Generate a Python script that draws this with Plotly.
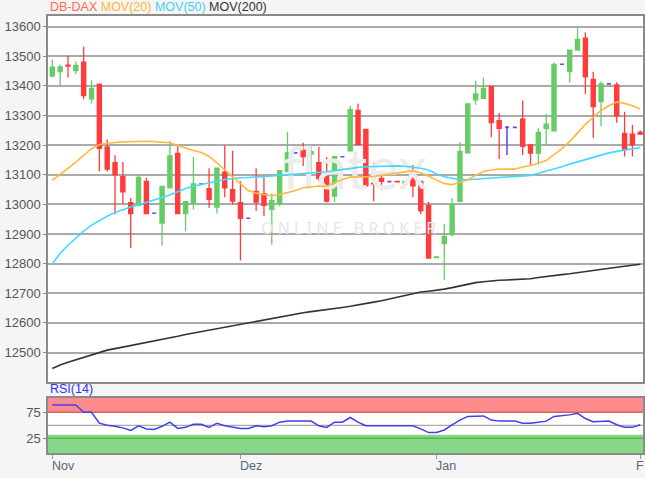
import plotly.graph_objects as go

# ---------------- data ----------------
idx = list(range(76))

open_ = [13433, 13448, 13470, 13452, 13480, 13356, 13406, 13194, 13141, 13094,
         13006, 12997, 13078, 12970, 12937, 13056, 13172, 12969, 13006, 13069,
         13053, 12991, 13109, 13050, 13006, 12953, 13044, 13036, 12983, 13003,
         13111, 13174, 13183, 13170, 13141, 13098, 13028, 13161, 13181, 13317,
         13253, 13072, 13088, 13077, 13078, 13070, 13086, 13078, 12997, 12820,
         12868, 12898, 13010, 13174, 13353, 13358, 13398, 13283, 13260, 13260,
         13288, 13201, 13173, 13257, 13248, 13473, 13448, 13521, 13561, 13422,
         13347, 13407, 13403, 13240, 13237, 13243]
high = [13489, 13472, 13503, 13483, 13533, 13419, 13406, 13219, 13166, 13143,
        13022, 13099, 13090, 12970, 13061, 13214, 13200, 13009, 13161, 13069,
        13122, 13122, 13199, 13181, 13078, 12953, 13122, 13098, 13037, 13114,
        13244, 13174, 13208, 13200, 13194, 13159, 13161, 13161, 13333, 13341,
        13253, 13141, 13107, 13077, 13078, 13080, 13133, 13078, 13008, 12823,
        12935, 13021, 13210, 13339, 13417, 13428, 13398, 13308, 13265, 13260,
        13351, 13201, 13257, 13306, 13479, 13473, 13521, 13600, 13580, 13448,
        13415, 13407, 13412, 13313, 13269, 13250]
low = [13430, 13400, 13428, 13439, 13356, 13341, 13111, 13111, 12967, 13002,
       12852, 12994, 12967, 12970, 12861, 13056, 12969, 12909, 12983, 13069,
       12989, 12969, 13024, 13000, 12811, 12953, 12978, 12961, 12864, 12994,
       13111, 13174, 13130, 13111, 13078, 13006, 13008, 13161, 13178, 13200,
       13061, 13011, 13050, 13077, 13076, 13066, 13025, 12967, 12819, 12820,
       12746, 12892, 13010, 13174, 13336, 13358, 13227, 13153, 13167, 13260,
       13167, 13134, 13134, 13201, 13246, 13473, 13411, 13521, 13373, 13224,
       13265, 13407, 13276, 13162, 13162, 13234]
close = [13463, 13464, 13467, 13469, 13367, 13392, 13189, 13119, 13100, 13042,
         12969, 13091, 12969, 12970, 13061, 13164, 12969, 13009, 13069, 13069,
         13017, 13122, 13056, 13011, 12953, 12953, 13008, 12997, 13013, 13114,
         13174, 13174, 13161, 13178, 13087, 13011, 13161, 13161, 13320, 13202,
         13063, 13069, 13078, 13077, 13076, 13078, 13063, 12978, 12819, 12823,
         12892, 12999, 13179, 13339, 13373, 13392, 13276, 13257, 13260, 13260,
         13196, 13173, 13243, 13271, 13473, 13473, 13521, 13557, 13431, 13330,
         13407, 13407, 13299, 13184, 13201, 13237]

ma20 = [13081, 13100, 13122, 13143, 13165, 13188, 13202, 13206, 13209, 13211,
        13212, 13213, 13213, 13212, 13211, 13208, 13199, 13190, 13182, 13175,
        13162, 13140, 13117, 13094, 13071, 13047, 13038, 13033, 13029, 13033,
        13039, 13047, 13056, 13060, 13062, 13061, 13074, 13084, 13092, 13093,
        13094, 13094, 13098, 13102, 13106, 13110, 13114, 13106, 13096, 13082,
        13071, 13066, 13075, 13083, 13098, 13111, 13116, 13119, 13119, 13119,
        13126, 13131, 13139, 13148, 13168, 13188, 13212, 13242, 13270, 13294,
        13317, 13333, 13346, 13341, 13333, 13322]
ma50 = [12800, 12835, 12862, 12887, 12910, 12930, 12946, 12960, 12973, 12983,
        12991, 12999, 13007, 13015, 13023, 13032, 13043, 13054, 13061, 13066,
        13072, 13078, 13084, 13088, 13090, 13091, 13092, 13094, 13096, 13098,
        13100, 13102, 13104, 13106, 13107, 13110, 13114, 13118, 13122, 13125,
        13127, 13128, 13129, 13130, 13130, 13129, 13126, 13122, 13116, 13103,
        13093, 13087, 13083, 13083, 13085, 13087, 13089, 13092, 13094, 13095,
        13097, 13098, 13105, 13112, 13120, 13127, 13136, 13144, 13152, 13160,
        13167, 13174, 13179, 13184, 13188, 13192]
ma200 = [12446, 12458, 12467, 12475, 12484, 12492, 12500, 12508, 12513, 12518,
         12523, 12529, 12535, 12539, 12543, 12548, 12555, 12561, 12566, 12571,
         12575, 12580, 12584, 12590, 12596, 12601, 12606, 12611, 12616, 12621,
         12625, 12630, 12634, 12638, 12641, 12645, 12648, 12652, 12656, 12660,
         12665, 12670, 12675, 12681, 12687, 12693, 12699, 12704, 12707, 12710,
         12714, 12719, 12725, 12731, 12736, 12739, 12742, 12744, 12745, 12746,
         12748, 12749, 12753, 12757, 12760, 12763, 12766, 12770, 12774, 12778,
         12781, 12784, 12788, 12791, 12795, 12798]
rsi = [89, 89, 89, 89, 75, 75, 54, 50, 48, 45,
       40, 49, 43, 42, 48, 56, 44, 46, 52, 52,
       46, 54, 49, 46, 44, 44, 49, 47, 49, 56,
       58, 58, 58, 58, 49, 46, 56, 56, 65, 56,
       49, 49, 49, 49, 49, 49, 49, 43, 36, 36,
       41, 51, 60, 67, 68, 68, 60, 58, 58, 58,
       54, 54, 56, 58, 67, 68, 70, 73, 63, 57,
       58, 58, 51, 46, 46, 51]

month_pos = [0, 24, 49, 75]
month_labels = ["Nov", "Dez", "Jan", "F"]
price_ticks = [12500, 12600, 12700, 12800, 12900, 13000, 13100, 13200,
               13300, 13400, 13500, 13600]
rsi_ticks = [25, 75]
rsi_upper, rsi_mid, rsi_lower = 75, 50, 25

# ---------------- styling ----------------
FONT = "Liberation Sans, Arial, sans-serif"
GREEN = "#66cc66"
RED = "#ff3b3b"
FLAT = "#6a4cf0"
X_RANGE = [-0.55, 75.35]
P_RANGE = [12400.5, 13636]
R_RANGE = [-3.3, 102.5]
MAIN_DOM = [0.1625, 1.0]
RSI_DOM = [0.0, 0.1259]

flat = [i for i in idx if open_[i] == close[i]]
moving = [i for i in idx if open_[i] != close[i]]

fig = go.Figure()

# watermark (under the candles)
fig.add_trace(go.Scatter(x=[38.6], y=[13098], mode="text", text=["flatex"],
                         textfont=dict(family="Noto Sans", size=56, color="#ececec"),
                         hoverinfo="skip", showlegend=False, xaxis="x", yaxis="y"))
fig.add_trace(go.Scatter(x=[37.8], y=[12915], mode="text",
                         text=["O N L I N E &nbsp; B R O K E R"],
                         textfont=dict(family="Noto Sans", size=16, color="#e6e6e6"),
                         hoverinfo="skip", showlegend=False, xaxis="x", yaxis="y"))

# moving averages
fig.add_trace(go.Scatter(x=idx, y=ma200, mode="lines", line=dict(color="#333333", width=1.6),
                         hoverinfo="skip", showlegend=False))
fig.add_trace(go.Scatter(x=idx, y=ma50, mode="lines", line=dict(color="#44d8ff", width=1.6),
                         hoverinfo="skip", showlegend=False))
fig.add_trace(go.Scatter(x=idx, y=ma20, mode="lines", line=dict(color="#ffb840", width=1.6),
                         hoverinfo="skip", showlegend=False))

# candles
fig.add_trace(go.Candlestick(
    x=[idx[i] for i in moving],
    open=[open_[i] for i in moving], high=[high[i] for i in moving],
    low=[low[i] for i in moving], close=[close[i] for i in moving],
    increasing=dict(line=dict(color=GREEN, width=1.3), fillcolor=GREEN),
    decreasing=dict(line=dict(color=RED, width=1.3), fillcolor=RED),
    whiskerwidth=0, hoverinfo="skip", showlegend=False))
fig.add_trace(go.Candlestick(
    x=[idx[i] for i in flat],
    open=[open_[i] for i in flat], high=[high[i] for i in flat],
    low=[low[i] for i in flat], close=[close[i] for i in flat],
    increasing=dict(line=dict(color=FLAT, width=1.6), fillcolor=FLAT),
    decreasing=dict(line=dict(color=FLAT, width=1.6), fillcolor=FLAT),
    whiskerwidth=0, hoverinfo="skip", showlegend=False))

# RSI
fig.add_trace(go.Scatter(x=idx, y=rsi, mode="lines", line=dict(color="#3f3ff0", width=1.5),
                         hoverinfo="skip", showlegend=False, xaxis="x2", yaxis="y2"))

shapes = [
    dict(type="rect", xref="x2 domain", yref="y2", x0=0, x1=1, y0=rsi_upper, y1=R_RANGE[1],
         fillcolor="#ff8c8c", line=dict(width=0), layer="below"),
    dict(type="rect", xref="x2 domain", yref="y2", x0=0, x1=1, y0=R_RANGE[0], y1=32,
         fillcolor="#88d888", line=dict(width=0), layer="below"),
    dict(type="line", xref="x2 domain", yref="y2", x0=0, x1=1, y0=rsi_upper, y1=rsi_upper,
         line=dict(color="#d86464", width=1.5), layer="below"),
    dict(type="line", xref="x2 domain", yref="y2", x0=0, x1=1, y0=rsi_lower, y1=rsi_lower,
         line=dict(color="#5cb35c", width=1.5), layer="below"),
    dict(type="line", xref="x2 domain", yref="y2", x0=0, x1=1, y0=rsi_mid, y1=rsi_mid,
         line=dict(color="#aaaaaa", width=1.2), layer="below"),
]

annotations = [
    dict(xref="paper", yref="paper", x=0, y=1, xanchor="left", yanchor="bottom",
         showarrow=False, font=dict(family=FONT, size=12.5),
         text='<span style="color:#ff6a50">DB-DAX</span> '
              '<span style="color:#ffb733">MOV(20)</span> '
              '<span style="color:#3cd2ff">MOV(50)</span> '
              '<span style="color:#333333">MOV(200)</span>'),
    dict(xref="paper", yref="paper", x=0, y=RSI_DOM[1], xanchor="left", yanchor="bottom",
         showarrow=False, font=dict(family=FONT, size=12.5, color="#3030ff"), text="RSI(14)"),
]
for k, (p, lab) in enumerate(zip(month_pos, month_labels)):
    last = k == len(month_pos) - 1
    annotations.append(dict(xref="x2", yref="paper", x=p, y=0, xanchor="left", yanchor="top",
                            yshift=-4, xshift=-6 if last else -2, showarrow=False,
                            font=dict(family=FONT, size=12.5, color="#55657a"), text=lab))

axis_line = dict(showline=True, mirror=True, linecolor="#8a8a8a", linewidth=1.5,
                 zeroline=False, automargin=False)

fig.update_layout(
    width=645, height=478,
    margin=dict(l=48, r=2, t=16, b=25),
    paper_bgcolor="#f5f5f5", plot_bgcolor="#ffffff",
    font=dict(family=FONT, size=13, color="#555555"),
    boxgap=0.25,
    showlegend=False,
    hovermode=False,
    xaxis=dict(domain=[0, 1], range=X_RANGE, anchor="y", showticklabels=False, ticks="",
               showgrid=False, rangeslider=dict(visible=False), **axis_line),
    yaxis=dict(domain=MAIN_DOM, range=P_RANGE, anchor="x", tickvals=price_ticks,
               tickformat="d", ticks="outside", ticklen=3, tickcolor="#8a8a8a", showgrid=True,
               gridcolor="#aaaaaa", gridwidth=1.5,
               tickfont=dict(family=FONT, size=13, color="#555555"), **axis_line),
    xaxis2=dict(domain=[0, 1], range=X_RANGE, anchor="y2", tickvals=month_pos,
                showticklabels=False, ticks="outside", ticklen=4, tickcolor="#8a9aaa",
                showgrid=False, rangeslider=dict(visible=False), **axis_line),
    yaxis2=dict(domain=RSI_DOM, range=R_RANGE, anchor="x2", tickvals=rsi_ticks,
                ticks="outside", ticklen=3, tickcolor="#8a8a8a", showgrid=False,
                tickfont=dict(family=FONT, size=13, color="#555555"), **axis_line),
    shapes=shapes,
    annotations=annotations,
)

fig.write_html(
    "out.html",
    config={"displayModeBar": False},
    post_script="document.body.style.margin='0';document.body.style.background='#f5f5f5';",
)
